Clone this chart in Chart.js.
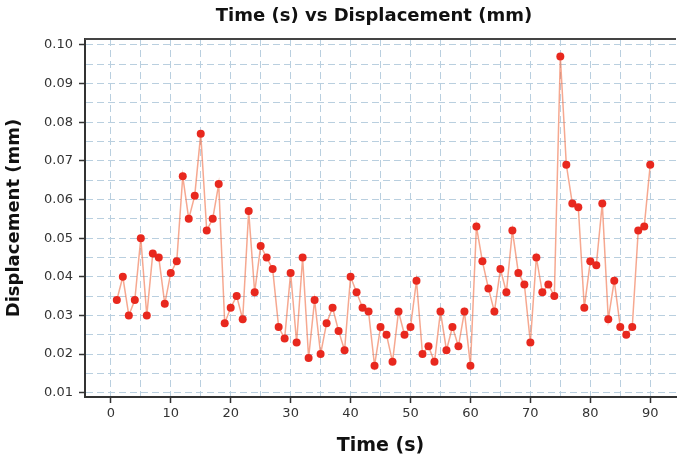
<!DOCTYPE html>
<html>
<head>
<meta charset="utf-8">
<script src="https://cdn.jsdelivr.net/npm/chart.js"></script>
<style>
  html, body { margin: 0; padding: 0; background: #fff; }
  #wrap { width: 680px; height: 461px; position: relative; }
</style>
</head>
<body>
<div id="wrap"><canvas id="grafico"></canvas></div>
<script>
const tempos = [
  1, 2, 3, 4, 5, 6, 7, 8, 9, 10, 11, 12, 13, 14, 15, 16, 17, 18, 19, 20,
  21, 22, 23, 24, 25, 26, 27, 28, 29, 30, 31, 32, 33, 34, 35, 36, 37, 38, 39, 40,
  41, 42, 43, 44, 45, 46, 47, 48, 49, 50, 51, 52, 53, 54, 55, 56, 57, 58, 59, 60,
  61, 62, 63, 64, 65, 66, 67, 68, 69, 70, 71, 72, 73, 74, 75, 76, 77, 78, 79, 80,
  81, 82, 83, 84, 85, 86, 87, 88, 89, 90
];
const deslocamentos = [
  0.034, 0.040, 0.030, 0.034, 0.050, 0.030, 0.046, 0.045, 0.033, 0.041,
  0.044, 0.066, 0.055, 0.061, 0.077, 0.052, 0.055, 0.064, 0.028, 0.032,
  0.035, 0.029, 0.057, 0.036, 0.048, 0.045, 0.042, 0.027, 0.024, 0.041,
  0.023, 0.045, 0.019, 0.034, 0.020, 0.028, 0.032, 0.026, 0.021, 0.040,
  0.036, 0.032, 0.031, 0.017, 0.027, 0.025, 0.018, 0.031, 0.025, 0.027,
  0.039, 0.020, 0.022, 0.018, 0.031, 0.021, 0.027, 0.022, 0.031, 0.017,
  0.053, 0.044, 0.037, 0.031, 0.042, 0.036, 0.052, 0.041, 0.038, 0.023,
  0.045, 0.036, 0.038, 0.035, 0.097, 0.069, 0.059, 0.058, 0.032, 0.044,
  0.043, 0.059, 0.029, 0.039, 0.027, 0.025, 0.027, 0.052, 0.053, 0.069
];
// grade a cada 5 s / 0.005 mm, rotulos so nos multiplos de 10 / 0.01
const ticksX = [0, 5, 10, 15, 20, 25, 30, 35, 40, 45, 50, 55, 60, 65, 70, 75, 80, 85, 90];
const ticksY = [0.01, 0.015, 0.02, 0.025, 0.03, 0.035, 0.04, 0.045, 0.05, 0.055,
  0.06, 0.065, 0.07, 0.075, 0.08, 0.085, 0.09, 0.095, 0.10];

const titulo = "Time (s) vs Displacement (mm)";
const fonte = "'DejaVu Sans', sans-serif";

function ehMaior(v, passo) {
  const r = v / passo;
  return Math.abs(r - Math.round(r)) < 1e-6;
}

const molduraETitulo = {
  id: "molduraETitulo",
  afterDraw(chart) {
    const { ctx, chartArea } = chart;
    ctx.save();
    ctx.strokeStyle = "#444";
    ctx.lineWidth = 2;
    ctx.beginPath();
    ctx.moveTo(chartArea.left, chartArea.top);
    ctx.lineTo(chartArea.right, chartArea.top);
    ctx.stroke();
    ctx.fillStyle = "#111";
    ctx.font = "bold 18px " + fonte;
    ctx.textAlign = "center";
    ctx.textBaseline = "middle";
    ctx.fillText(titulo, 374, 16);
    ctx.restore();
  }
};

const ctx = document.getElementById("grafico").getContext("2d");
new Chart(ctx, {
  type: "line",
  data: {
    datasets: [{
      label: "Displacement",
      data: tempos.map((t, i) => ({ x: t, y: deslocamentos[i] })),
      borderColor: "rgba(240, 110, 70, 0.6)",
      borderWidth: 1.5,
      pointBackgroundColor: "#e8281e",
      pointBorderColor: "#e8281e",
      pointRadius: 4,
      pointBorderWidth: 0,
      tension: 0
    }]
  },
  options: {
    responsive: true,
    maintainAspectRatio: false,
    animation: false,
    layout: { padding: { top: 39, right: 0, left: 0, bottom: 0 } },
    plugins: {
      legend: { display: false },
      tooltip: { enabled: false },
      title: { display: false }
    },
    scales: {
      x: {
        type: "linear",
        min: -4.31,
        max: 94.3,
        afterBuildTicks: (scale) => { scale.ticks = ticksX.map(v => ({ value: v })); },
        afterFit: (scale) => { scale.height = 64; },
        border: { display: true, color: "#333", width: 2, dash: [7, 4] },
        grid: {
          color: "#b9cfdf",
          lineWidth: 1,
          tickLength: 6,
          tickBorderDash: [],
          tickColor: (c) => ehMaior(c.tick.value, 10) ? "#333" : "rgba(0,0,0,0)",
          tickWidth: 1.5
        },
        ticks: {
          autoSkip: false,
          maxRotation: 0,
          padding: 3,
          color: "#333",
          font: { family: fonte, size: 13 },
          callback: (v) => ehMaior(v, 10) ? String(v) : ""
        },
        title: {
          display: true,
          text: "Time (s)",
          color: "#111",
          font: { family: fonte, size: 19, weight: "bold" },
          padding: { top: 2, bottom: 4 }
        }
      },
      y: {
        type: "linear",
        min: 0.00889,
        max: 0.10155,
        afterBuildTicks: (scale) => { scale.ticks = ticksY.map(v => ({ value: v })); },
        afterFit: (scale) => { scale.width = 85; },
        border: { display: true, color: "#333", width: 2, dash: [7, 4] },
        grid: {
          color: "#b9cfdf",
          lineWidth: 1,
          tickLength: 6,
          tickBorderDash: [],
          tickColor: (c) => ehMaior(c.tick.value, 0.01) ? "#333" : "rgba(0,0,0,0)",
          tickWidth: 1.5
        },
        ticks: {
          autoSkip: false,
          padding: 6,
          color: "#333",
          font: { family: fonte, size: 13 },
          callback: (v) => ehMaior(v, 0.01) ? v.toFixed(2) : ""
        },
        title: {
          display: true,
          text: "Displacement (mm)",
          color: "#111",
          font: { family: fonte, size: 18, weight: "bold" },
          padding: { top: 4, bottom: 4 }
        }
      }
    }
  },
  plugins: [molduraETitulo]
});
</script>
</body>
</html>
